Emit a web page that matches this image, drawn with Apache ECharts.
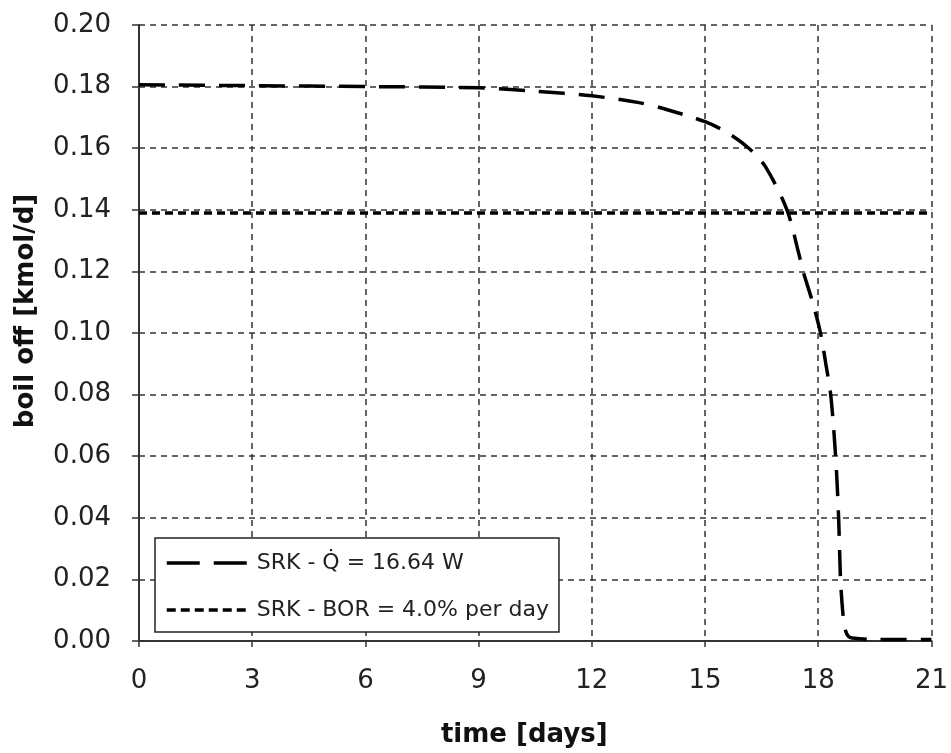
<!DOCTYPE html>
<html>
<head>
<meta charset="utf-8">
<script src="https://cdn.jsdelivr.net/npm/echarts@6/dist/echarts.min.js"></script>
<style>
html,body{margin:0;padding:0;background:#fff;}
#chart{width:951px;height:753px;}
</style>
</head>
<body>
<div id="chart"></div>
<script>
// Data
var xTicks = [0, 3, 6, 9, 12, 15, 18, 21];
var yTicks = [0.00, 0.02, 0.04, 0.06, 0.08, 0.10, 0.12, 0.14, 0.16, 0.18, 0.20];

var qTime = [0, 3, 6, 9, 10.5, 12, 13.25, 14, 15, 15.6, 16.16, 16.6, 17.17, 17.48, 17.6, 17.85, 18.06, 18.2, 18.33, 18.46, 18.54, 18.59, 18.66, 18.72, 18.8, 18.9, 19.5, 21];
var qBoil = [0.1806, 0.1803, 0.1800, 0.1796, 0.1785, 0.1770, 0.1748, 0.1725, 0.1686, 0.1650, 0.1600, 0.1540, 0.1400, 0.1260, 0.1200, 0.1100, 0.1000, 0.0900, 0.0800, 0.0600, 0.0400, 0.0200, 0.0080, 0.0035, 0.0015, 0.0010, 0.0005, 0.0005];

var borTime = [0, 21];
var borBoil = [0.139, 0.139];

var nameQ = 'SRK - Q\u0307 = 16.64 W';
var nameBor = 'SRK - BOR = 4.0% per day';

function pairs(xs, ys) { return xs.map(function (x, i) { return [x, ys[i]]; }); }

var font = 'DejaVu Sans, Liberation Sans, sans-serif';
var chart = echarts.init(document.getElementById('chart'), null, {renderer: 'canvas'});
chart.setOption({
  backgroundColor: '#fff',
  animation: false,
  grid: {left: 139, right: 18, top: 25, bottom: 110, containLabel: false},
  legend: {
    orient: 'vertical',
    left: 155, top: 538,
    backgroundColor: '#fff',
    borderColor: '#222', borderWidth: 1.5, borderRadius: 0,
    padding: [13, 10, 10, 10],
    itemWidth: 80, itemHeight: 20, itemGap: 23,
    itemStyle: {opacity: 0},
    lineStyle: {color: '#000', width: 3.5},
    textStyle: {fontFamily: font, fontSize: 22, color: '#222', lineHeight: 24, padding: [0, 0, 0, 5]},
    data: [
      {name: nameQ, lineStyle: {type: [33, 14], width: 3.5, color: '#000'}},
      {name: nameBor, lineStyle: {type: [9, 5], width: 3.5, color: '#000'}}
    ]
  },
  xAxis: {
    type: 'value', min: 0, max: 21, interval: 3,
    name: 'time [days]', nameLocation: 'middle', nameGap: 81,
    nameTextStyle: {fontFamily: font, fontSize: 26, fontWeight: 'bold', color: '#111', padding: [0, 22, 0, 0]},
    axisLine: {show: true, lineStyle: {color: '#333', width: 2}},
    axisTick: {show: true, length: 6, lineStyle: {color: '#333', width: 1.5}},
    axisLabel: {fontFamily: font, fontSize: 26, color: '#222', margin: 27,
      formatter: function (v) { return xTicks.indexOf(v) >= 0 ? String(v) : ''; }},
    splitLine: {show: true, lineStyle: {color: '#333', width: 1.5, type: [6, 5]}}
  },
  yAxis: {
    type: 'value', min: 0, max: 0.2, interval: 0.02,
    name: 'boil off [kmol/d]', nameLocation: 'middle', nameGap: 100,
    nameTextStyle: {fontFamily: font, fontSize: 26, fontWeight: 'bold', color: '#111', padding: [0, 0, 0, 44]},
    axisLine: {show: true, lineStyle: {color: '#333', width: 2}},
    axisTick: {show: true, length: 7, lineStyle: {color: '#333', width: 1.5}},
    axisLabel: {fontFamily: font, fontSize: 26, color: '#222', margin: 28,
      formatter: function (v) { return v.toFixed(2); }},
    splitLine: {show: true, lineStyle: {color: '#333', width: 1.5, type: [6, 5]}}
  },
  series: [
    {
      name: nameQ, type: 'line', data: pairs(qTime, qBoil),
      symbol: 'none', smooth: 0.3, z: 5,
      lineStyle: {color: '#000', width: 3.5, type: [26, 14]},
      itemStyle: {color: '#000'}
    },
    {
      name: nameBor, type: 'line', data: pairs(borTime, borBoil),
      symbol: 'none', z: 4,
      lineStyle: {color: '#000', width: 3.5, type: [8, 5]},
      itemStyle: {color: '#000'}
    }
  ]
});
</script>
</body>
</html>
